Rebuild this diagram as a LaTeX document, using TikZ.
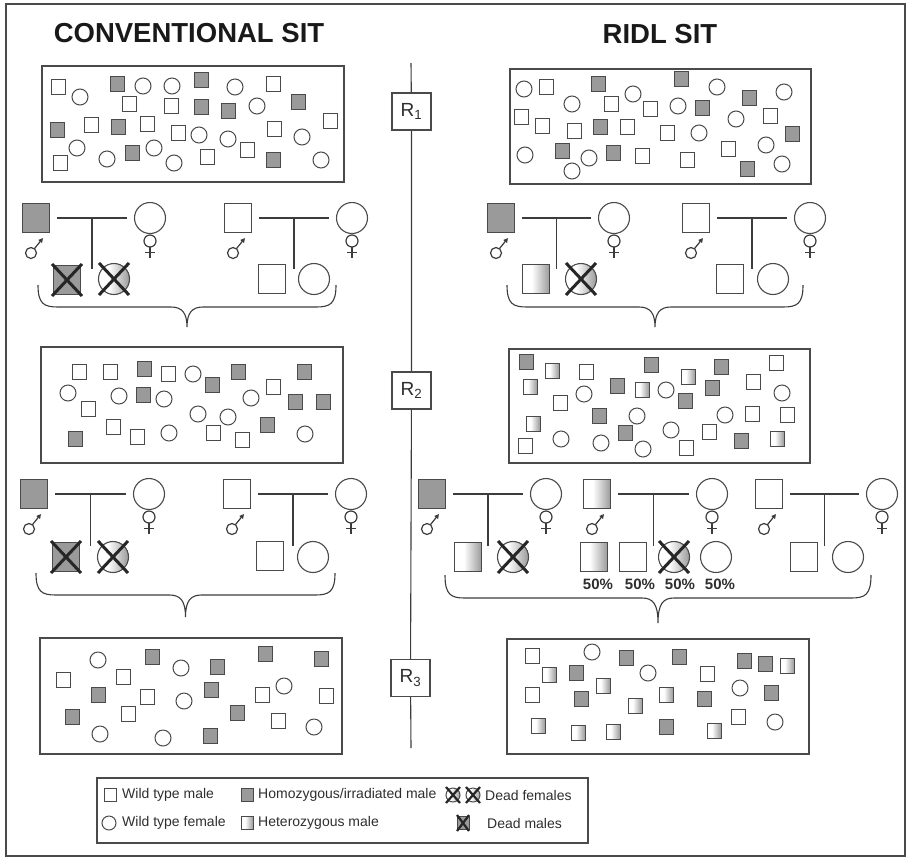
\documentclass[tikz,border=0pt]{standalone}
\usepackage{fontspec}
\setmainfont{Liberation Sans}
\usetikzlibrary{arrows.meta,calc}
\definecolor{gfill}{HTML}{9A9A9A}
\definecolor{edge}{HTML}{4A4A4A}
\definecolor{lncol}{HTML}{3C3C3C}
\definecolor{txt}{HTML}{2E2E2E}
\pgfdeclarehorizontalshading{het}{100bp}{color(0bp)=(white); color(42bp)=(white); color(75bp)=(gfill); color(100bp)=(gfill)}
\tikzset{
  ln/.style={draw=lncol,line width=1.1pt},
  sym/.style={draw=lncol,line width=1.2pt},
  xl/.style={draw=black!85,line width=3pt},
  shp/.style={draw=edge,line width=1pt,inner sep=0pt,outer sep=0pt},
  hetfill/.style={shade,shading=het},
  wsq/.style={shp,rectangle,minimum width=14pt,minimum height=15pt,fill=white},
  gsq/.style={shp,rectangle,minimum width=14pt,minimum height=15pt,fill=gfill},
  hsq/.style={shp,rectangle,minimum width=14pt,minimum height=15pt,hetfill},
  wci/.style={shp,circle,minimum size=16pt,fill=white},
  big/.style={line width=1.1pt,minimum width=27pt,minimum height=29pt},
  bwsq/.style={wsq,big},
  bgsq/.style={gsq,big},
  bhsq/.style={hsq,big},
  bci/.style={shp,circle,line width=1.1pt,minimum size=31pt,fill=white},
  bhci/.style={shp,circle,line width=1.1pt,minimum size=31pt,hetfill},
  popbox/.style={draw=edge,line width=1.3pt},
  rbox/.style={draw=edge,line width=1.2pt,fill=white,minimum width=39pt,minimum height=37pt,inner sep=0pt,font=\fontsize{19}{19}\selectfont,text=txt},
  ttl/.style={font=\fontsize{27.5}{30}\selectfont\bfseries,text=black!90},
  pct/.style={font=\fontsize{15}{16}\selectfont\bfseries,text=txt},
  leg/.style={font=\fontsize{14}{16}\selectfont,text=txt,anchor=west,inner sep=0pt},
  lwsq/.style={shp,rectangle,minimum width=12pt,minimum height=13pt,fill=white},
  lgsq/.style={shp,rectangle,minimum width=12pt,minimum height=13pt,fill=gfill},
  lhsq/.style={shp,rectangle,minimum width=12pt,minimum height=13pt,hetfill},
  lwci/.style={shp,circle,minimum size=14pt,fill=white},
  lhci/.style={shp,circle,minimum size=14pt,hetfill},
}
\newcommand\pop[3]{\foreach \p [count=\i] in {#3} \node[#2] (#1\i) at \p {};}
\newcommand\malesym[1]{%
  \draw[sym] ([shift={(-5,35)}]#1.center) circle[radius=5.5pt];
  \draw[sym,-{Triangle[length=4.5pt,width=4.5pt]}] ([shift={(-1.6,30.7)}]#1.center) -- ([shift={(7,20)}]#1.center);}
\newcommand\femsym[1]{%
  \draw[sym] ([shift={(0,23)}]#1.center) circle[radius=6pt];
  \draw[sym] ([shift={(0,29)}]#1.center) -- ([shift={(0,40)}]#1.center);
  \draw[sym] ([shift={(-5,34.5)}]#1.center) -- ([shift={(5,34.5)}]#1.center);}
\newcommand\mate[6]{%
  \node[#2] (#1m) at (#3,#5) {};
  \node[bci] (#1f) at (#4,#5) {};
  \draw[ln,shorten <=7.5pt,shorten >=7.5pt] (#1m) -- (#1f);
  \path (#1m.east) -- (#1f.west) coordinate[midway] (#1c);
  \coordinate (#1d) at ($(#1c)+(0,#6)$);
  \draw[ln] (#1c) -- (#1d);
  \malesym{#1m}\femsym{#1f}}
\newcommand\myxout[3]{%
  \draw[xl] ([shift={(-#2,-#3)}]#1.center) -- ([shift={(#2,#3)}]#1.center);
  \draw[xl] ([shift={(-#2,#3)}]#1.center) -- ([shift={(#2,-#3)}]#1.center);}
\newcommand\mybrace[5]{%
  \pgfmathsetmacro\xm{(#1+#2)/2}%
  \draw[ln] (#1,#3) .. controls (#1,{#4-3}) and ({#1+6},#4) .. ({#1+20},#4)
    -- ({\xm-16},#4) .. controls ({\xm-5},#4) and (\xm,{#4+6}) .. (\xm,#5)
    .. controls (\xm,{#4+6}) and ({\xm+5},#4) .. ({\xm+16},#4)
    -- ({#2-20},#4) .. controls ({#2-6},#4) and (#2,{#4-3}) .. (#2,#3);}
\begin{document}
\begin{tikzpicture}[x=1pt,y=-1pt]
\useasboundingbox (0,0) rectangle (907,857);
% outer frame
\draw[draw=edge,line width=1.5pt] (6,4) rectangle (905,856);
% titles
\node[ttl] (tc) at (189,33) {CONVENTIONAL SIT};
\node[ttl] (tr) at (660,34) {RIDL SIT};
% timeline
\coordinate (ltop) at (411,63);
\coordinate (lbot) at (411,748);
\node[rbox] (R1) at (411.5,111.5) {R\textsubscript{1}};
\node[rbox] (R2) at (411.5,390.5) {R\textsubscript{2}};
\node[rbox] (R3) at (410.5,678) {R\textsubscript{3}};
\draw[ln] (ltop) -- (R1) -- (R2) -- (R3) -- (lbot);
% population boxes
\draw[popbox] (42,66) rectangle (344,182);
\draw[popbox] (510,69) rectangle (811,184);
\draw[popbox] (41,347) rectangle (343,463);
\draw[popbox] (509,349) rectangle (810,463);
\draw[popbox] (40,638) rectangle (342,754);
\draw[popbox] (507,639) rectangle (809,754);
% top-left population
\pop{tlw}{wsq}{(58,87),(273,84),(129,104),(171,106),(91,125),(147,124),(178,133),(274,129),(330,121),(60,163),(207,157),(247,150)}
\pop{tlg}{gsq}{(117,84),(201,80),(201,107),(228,111),(298,102),(57,130),(118,127),(132,153),(273,160)}
\pop{tlc}{wci}{(80,97),(143,86),(172,86),(235,87),(257,106),(199,135),(228,139),(302,137),(77,148),(107,159),(154,148),(174,163),(321,160)}
% top-right population
\pop{trc}{wci}{(524,89),(572,104),(633,94),(717,87),(678,106),(784,92),(699,133),(736,119),(766,145),(525,155),(572,171),(589,158),(782,164)}
\pop{trw}{wsq}{(546,87),(611,104),(650,109),(521,117),(542,126),(574,131),(627,127),(667,133),(770,116),(642,156),(687,160),(728,149)}
\pop{trg}{gsq}{(598,84),(681,79),(702,108),(749,98),(600,127),(792,134),(562,151),(613,153),(747,169)}
% middle-left population
\pop{mlw}{wsq}{(79,372),(110,372),(168,374),(273,387),(88,409),(113,427),(137,437),(213,433),(242,440)}
\pop{mlg}{gsq}{(144,369),(212,385),(238,372),(304,372),(143,395),(295,402),(323,402),(267,425),(75,439)}
\pop{mlc}{wci}{(193,374),(68,393),(119,396),(164,399),(251,398),(198,414),(228,417),(169,433),(305,434)}
% middle-right population
\pop{mrg}{gsq}{(526,362),(651,365),(721,367),(617,386),(712,388),(685,401),(599,416),(625,433),(741,441)}
\pop{mrh}{hsq}{(552,371),(688,377),(530,387),(642,390),(533,424),(777,439)}
\pop{mrw}{wsq}{(586,372),(776,363),(753,382),(560,403),(752,414),(787,415),(709,432),(525,446),(686,448)}
\pop{mrc}{wci}{(584,394),(666,390),(782,393),(637,416),(725,415),(561,439),(601,443),(671,430),(643,449)}
% bottom-left population
\pop{blc}{wci}{(98,660),(181,668),(284,686),(184,701),(314,727),(100,734),(163,738)}
\pop{blg}{gsq}{(152,657),(217,667),(265,654),(321,659),(98,695),(211,690),(72,717),(237,713),(210,736)}
\pop{blw}{wsq}{(63,680),(123,677),(147,697),(262,695),(326,696),(128,714),(278,721)}
% bottom-right population
\pop{brw}{wsq}{(532,656),(707,674),(532,695),(738,717)}
\pop{brc}{wci}{(592,652),(648,673),(740,688),(775,722)}
\pop{brg}{gsq}{(626,658),(679,657),(744,661),(765,664),(576,673),(581,699),(704,699),(771,693),(666,727)}
\pop{brh}{hsq}{(787,666),(549,675),(603,686),(666,695),(635,706),(538,726),(578,733),(613,732),(714,731)}
% ---- crosses, first generation
\mate{A}{bgsq}{36}{150}{218}{51}
\node[bgsq] (A1) at (67,280) {}; \myxout{A1}{15}{16}
\node[bhci] (A2) at (114,279) {}; \myxout{A2}{15}{16}
\mate{B}{bwsq}{238}{352}{218}{51}
\node[bwsq] (B1) at (272,279) {};
\node[bci] (B2) at (314,279) {};
\mybrace{38}{336}{285}{307}{327}
\mate{C}{bgsq}{501}{614}{218}{51}
\node[bhsq] (C1) at (536,279) {};
\node[bhci] (C2) at (581,279) {}; \myxout{C2}{15}{16}
\mate{D}{bwsq}{696}{810}{218}{51}
\node[bwsq] (D1) at (730,279) {};
\node[bci] (D2) at (773,279) {};
\mybrace{507}{803}{285}{307}{327}
% ---- crosses, second generation
\mate{E}{bgsq}{34}{149}{494}{52}
\node[bgsq] (E1) at (66,557) {}; \myxout{E1}{15}{16}
\node[bhci] (E2) at (113,557) {}; \myxout{E2}{15}{16}
\mate{F}{bwsq}{237}{351}{494}{52}
\node[bwsq] (F1) at (270,556) {};
\node[bci] (F2) at (313,557) {};
\mybrace{36}{335}{573}{595}{617}
\mate{G}{bgsq}{432}{546}{494}{52}
\node[bhsq] (G1) at (468,557) {};
\node[bhci] (G2) at (513,557) {}; \myxout{G2}{15}{16}
\mate{H}{bhsq}{597}{712}{494}{52}
\node[bhsq] (H1) at (594,557) {};
\node[bwsq] (H2) at (633,557) {};
\node[bhci] (H3) at (674,557) {}; \myxout{H3}{15}{16}
\node[bci] (H4) at (716,557) {};
\node[pct] (P1) at (598,584) {50\%};
\node[pct] (P2) at (640,584) {50\%};
\node[pct] (P3) at (680,584) {50\%};
\node[pct] (P4) at (720,584) {50\%};
\mate{I}{bwsq}{769}{882}{494}{52}
\node[bwsq] (I1) at (804,557) {};
\node[bci] (I2) at (848,557) {};
\mybrace{445}{871}{575}{598}{623}
% ---- legend
\draw[popbox,line width=1.1pt] (97,778) rectangle (588,843);
\node[lwsq] (L1) at (110,795) {};
\node[leg] (L1t) at (122,795) {Wild type male};
\node[lwci] (L2) at (109,823) {};
\node[leg] (L2t) at (122,823) {Wild type female};
\node[lgsq] (L3) at (247,795) {};
\node[leg] (L3t) at (258,795) {Homozygous/irradiated male};
\node[lhsq] (L4) at (247,823) {};
\node[leg] (L4t) at (258,823) {Heterozygous male};
\node[lhci] (L5) at (453,795) {}; \draw[xl,line width=2.2pt] ([shift={(-7,-8)}]L5.center) -- ([shift={(7,8)}]L5.center); \draw[xl,line width=2.2pt] ([shift={(-7,8)}]L5.center) -- ([shift={(7,-8)}]L5.center);
\node[lhci] (L6) at (473,795) {}; \draw[xl,line width=2.2pt] ([shift={(-7,-8)}]L6.center) -- ([shift={(7,8)}]L6.center); \draw[xl,line width=2.2pt] ([shift={(-7,8)}]L6.center) -- ([shift={(7,-8)}]L6.center);
\node[leg] (L5t) at (485,795) {Dead females};
\node[lgsq] (L7) at (463,823) {}; \draw[xl,line width=2.2pt] ([shift={(-6,-8)}]L7.center) -- ([shift={(6,8)}]L7.center); \draw[xl,line width=2.2pt] ([shift={(-6,8)}]L7.center) -- ([shift={(6,-8)}]L7.center);
\node[leg] (L7t) at (487,823) {Dead males};
\end{tikzpicture}
\end{document}
